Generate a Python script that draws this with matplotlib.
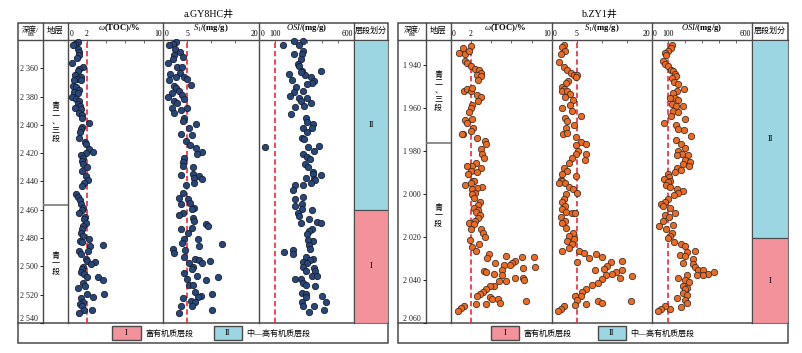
import matplotlib
matplotlib.use("Agg")
import matplotlib.pyplot as plt

plt.rcParams['font.family'] = ['Liberation Serif', 'Noto Sans CJK SC']
plt.rcParams['mathtext.fontset'] = 'custom'
plt.rcParams['mathtext.rm'] = 'Liberation Serif'
plt.rcParams['mathtext.it'] = 'Liberation Serif:italic'
plt.rcParams['mathtext.bf'] = 'Liberation Serif:bold'

# ---------------- data : well GY8HC ----------------
gy_toc_depth = [2341.4, 2342.8, 2343.8, 2346.1, 2348.5, 2350.8, 2352.7, 2356.4, 2359.3, 2360.2, 2362.1, 2364.4,
                2366.1, 2367.7, 2368.2, 2368.6, 2372.2, 2373.3, 2375.0, 2376.6, 2377.3, 2380.1, 2382.0, 2383.2,
                2385.1, 2386.7, 2388.4, 2389.1, 2391.4, 2393.1, 2394.9, 2398.7, 2401.5, 2403.1, 2405.0, 2409.0,
                2411.8, 2413.7, 2417.2, 2418.9, 2419.6, 2421.4, 2423.1, 2425.4, 2427.8, 2430.1, 2432.5, 2436.0,
                2439.1,
                2441.4, 2443.3, 2448.5, 2450.8, 2453.2, 2456.2, 2458.5, 2460.2, 2462.1, 2464.9, 2466.8, 2469.1,
                2471.5, 2473.8, 2476.2, 2478.5, 2480.4, 2482.0, 2482.7, 2485.5, 2484.6, 2489.1, 2491.4, 2489.1,
                2494.5, 2496.1, 2496.8, 2498.4, 2500.1, 2502.0, 2504.3, 2505.5, 2507.8, 2507.6, 2509.5, 2511.4,
                2513.7, 2515.6, 2519.6, 2519.8, 2521.4, 2522.6, 2525.0, 2526.6, 2528.3, 2530.8, 2530.8, 2533.0]
gy_toc = [1.05, 0.74, 0.56, 1.09, 1.19, 1.12, 0.95, 0.42, 1.61, 1.19, 1.02, 0.77,
          1.37, 0.95, 0.67, 1.33, 0.49, 0.84, 1.12, 0.63, 1.02, 0.42, 0.84, 1.12,
          1.02, 1.26, 0.77, 1.37, 1.19, 1.47, 1.44, 2.18, 1.47, 1.37, 1.26, 1.12,
          1.79, 1.89, 2.18, 2.60, 1.89, 1.37, 1.54, 1.47, 1.54, 1.96, 1.47, 1.89,
          2.07,
          1.72, 1.47, 0.84, 1.02, 1.26, 1.37, 1.61, 1.47, 1.19, 1.82, 1.72, 1.89,
          1.61, 1.47, 1.37, 1.61, 2.18, 1.26, 1.47, 2.32, 3.65, 1.12, 1.37, 2.07,
          1.89, 1.96, 2.88, 2.42, 1.61, 1.47, 1.37, 1.72, 1.96, 3.19, 3.65, 1.54,
          1.82, 1.05, 1.96, 3.82, 2.67, 1.37, 1.54, 1.26, 1.47, 1.72, 2.53, 1.12]

gy_s1_depth = [2341.4, 2342.8, 2343.3, 2346.1, 2348.5, 2350.8, 2352.2, 2353.2, 2356.2, 2359.3, 2359.3, 2363.9,
               2363.2, 2366.1, 2366.3, 2368.2, 2367.9, 2371.5, 2372.2, 2373.8, 2375.7, 2377.8, 2380.4, 2379.0,
               2382.0, 2383.2, 2384.4, 2388.4, 2389.8, 2391.4, 2387.9, 2394.9, 2397.3, 2402.0, 2399.2, 2406.2,
               2407.1, 2411.4, 2414.4, 2416.1, 2418.9, 2420.3, 2423.1, 2425.9, 2429.0, 2429.7, 2435.3, 2434.8,
               2436.0, 2437.2, 2438.3,
               2441.4, 2442.8, 2448.0, 2451.5, 2452.7, 2456.2, 2455.5, 2458.5, 2459.7, 2462.1, 2463.9, 2465.6,
               2467.9, 2470.3, 2471.5, 2472.6, 2473.8, 2476.2, 2480.8, 2480.8, 2483.2, 2485.5, 2484.4, 2487.9,
               2490.7, 2488.4, 2493.1, 2494.9, 2497.3, 2495.4, 2497.3, 2496.3, 2500.1, 2502.0, 2504.8, 2506.7,
               2509.5, 2507.6, 2509.0, 2512.8, 2513.2, 2517.9, 2521.2, 2519.6, 2521.9, 2522.6, 2524.3, 2525.4,
               2527.8, 2528.3, 2530.6, 2533.0]
gy_s1 = [2.71, 2.01, 1.32, 2.57, 3.61, 2.36, 4.24, 2.01, 0.97, 2.92, 3.96, 1.46,
         3.61, 2.71, 4.44, 1.32, 4.93, 5.83, 2.36, 2.71, 3.40, 1.88, 0.97, 3.96,
         4.44, 2.36, 2.92, 1.88, 3.75, 2.36, 4.93, 4.44, 4.10, 5.35, 6.88, 3.75,
         6.04, 4.79, 5.63, 6.88, 8.13, 7.01, 4.44, 4.24, 4.10, 6.18, 3.75, 6.18,
         7.43, 6.53, 8.13,
         6.53, 4.79, 4.10, 3.26, 5.14, 3.75, 5.63, 6.53, 6.04, 4.24, 3.26, 6.18,
         6.53, 8.96, 9.31, 6.04, 3.75, 5.14, 4.44, 7.22, 3.96, 7.43, 12.29, 2.15,
         2.36, 4.65, 4.44, 6.74, 5.35, 7.57, 8.13, 9.79, 6.18, 6.04, 4.44, 7.01,
         8.96, 11.39, 4.93, 5.35, 6.18, 6.74, 7.92, 10.21, 7.22, 4.10, 5.83, 6.74,
         3.75, 6.04, 10.21, 3.40]

gy_osi_depth = [2340.9, 2340.9, 2343.8, 2343.8, 2348.0, 2349.9, 2349.9, 2353.2, 2356.9, 2358.6, 2362.1, 2361.6,
                2364.0, 2364.9, 2362.5, 2366.3, 2368.6, 2369.1, 2370.3, 2371.0, 2373.3, 2376.2, 2376.6, 2379.7,
                2381.3, 2380.8, 2383.2, 2384.6, 2387.4, 2386.7, 2392.1, 2395.4, 2397.7, 2399.2, 2402.0, 2402.4,
                2405.3, 2409.0, 2410.2, 2415.6, 2415.6, 2414.9, 2418.4, 2420.3, 2422.6, 2424.3, 2427.8, 2430.1,
                2433.0, 2435.3, 2434.4, 2437.2, 2438.3,
                2439.1, 2441.4, 2442.8, 2442.8, 2446.1, 2450.8, 2452.7, 2456.2, 2457.4, 2459.7, 2460.2, 2462.1,
                2464.4, 2466.8, 2468.6, 2469.6, 2469.6, 2473.3, 2475.0, 2477.3, 2482.0, 2481.3, 2485.1, 2487.9,
                2489.8, 2488.4, 2491.4, 2493.1, 2494.5, 2495.4, 2496.8, 2497.7, 2500.1, 2500.8, 2503.1, 2503.1,
                2507.1, 2507.1, 2509.0, 2509.0, 2511.8, 2513.2, 2514.2, 2518.9, 2519.6, 2520.7, 2521.9, 2525.0,
                2525.4, 2527.8, 2527.8, 2530.6, 2532.5]
gy_osi = [223, 276, 149, 250, 280, 272, 223, 265, 244, 255, 272, 392,
          187, 293, 265, 328, 208, 349, 335, 301, 234, 280, 223, 196,
          255, 301, 265, 328, 229, 286, 204, 297, 301, 339, 280, 335,
          301, 272, 286, 40, 307, 377, 349, 280, 301, 322, 293, 307,
          339, 392, 339, 297, 349,
          356, 328, 229, 280, 213, 280, 229, 272, 229, 272, 335, 244,
          255, 314, 364, 392, 265, 335, 314, 301, 343, 307, 314, 322,
          160, 217, 213, 297, 343, 322, 280, 301, 280, 349, 297, 356,
          335, 364, 229, 265, 280, 297, 356, 272, 297, 398, 297, 272,
          423, 349, 280, 413, 314]

# ---------------- data : well ZY1 ----------------
zy_toc_depth = [1932.1, 1931.4, 1934.4, 1934.9, 1933.7, 1938.3, 1939.1, 1940.6, 1941.7, 1942.2, 1943.7, 1944.5,
                1945.2, 1946.8, 1951.9, 1951.4, 1952.2, 1950.6, 1954.0, 1955.0, 1956.8, 1958.4, 1959.9, 1961.8,
                1965.8, 1966.8, 1965.3, 1969.2, 1972.2, 1972.2, 1970.7, 1973.8, 1975.3, 1976.9, 1979.2, 1981.5,
                1983.4, 1985.8, 1986.9, 1986.9, 1988.0, 1989.2, 1990.0, 1990.8, 1993.9,
                1994.0, 1995.1, 1996.0, 1996.6, 1997.1, 1997.5, 1999.4, 2000.1, 2001.7, 2003.7, 2005.2, 2006.3,
                2007.4, 2008.6, 2009.9, 2011.4, 2012.5, 2013.6, 2014.0, 2016.3, 2016.3, 2018.2, 2020.2, 2021.3,
                2023.3, 2024.8, 2026.4, 2028.1, 2029.9, 2028.7, 2029.3, 2029.2, 2032.1, 2031.2, 2032.1, 2033.0,
                2033.0, 2035.2, 2034.2, 2033.9, 2035.6, 2036.4, 2037.2, 2037.9, 2038.9, 2039.2, 2039.8, 2040.7,
                2040.7, 2042.6, 2042.9, 2044.1, 2045.7, 2046.4, 2047.5, 2048.0, 2048.7, 2048.7, 2050.6, 2049.7,
                2051.1, 2051.2, 2052.1, 2053.1, 2054.3]
zy_toc = [1.23, 1.99, 0.83, 1.42, 1.82, 1.42, 1.66, 1.99, 2.42, 2.81, 2.98, 2.65,
          2.98, 2.75, 1.32, 1.66, 1.99, 2.09, 2.65, 2.98, 2.75, 2.15, 1.99, 1.82,
          1.42, 1.66, 2.09, 2.22, 1.23, 1.09, 1.99, 2.65, 3.41, 3.54, 2.98, 3.08,
          3.31, 2.48, 2.15, 1.66, 2.98, 1.99, 2.65, 1.75, 2.22,
          2.32, 1.99, 1.42, 3.08, 2.65, 2.15, 2.42, 2.09, 2.32, 2.88, 2.75, 2.32,
          2.75, 2.48, 2.88, 2.75, 2.42, 1.82, 2.32, 1.99, 2.98, 3.15, 3.41, 1.89,
          2.81, 2.09, 2.48, 3.81, 3.64, 5.46, 7.05, 8.28, 4.40, 6.39, 6.06, 5.86,
          5.30, 5.07, 7.19, 8.38, 3.31, 3.54, 4.30, 5.07, 6.39, 7.19, 7.28, 5.46,
          4.74, 4.30, 3.87, 3.54, 3.15, 2.88, 2.65, 3.87, 4.07, 4.64, 4.87, 7.45,
          2.55, 3.54, 1.32, 0.99, 0.76]

zy_s1_depth = [1930.6, 1931.8, 1933.4, 1934.9, 1938.6, 1941.1, 1942.2, 1943.7, 1944.8, 1944.8, 1945.7, 1947.3,
               1948.3, 1950.3, 1951.4, 1951.9, 1952.2, 1953.7, 1955.0, 1956.5, 1958.4, 1959.9, 1961.4, 1963.8,
               1964.5, 1966.1, 1967.9, 1969.2, 1972.2, 1971.5, 1973.5, 1975.6, 1977.2, 1976.6, 1980.0, 1981.5,
               1983.4, 1981.5, 1984.3, 1985.4, 1987.7, 1989.2, 1990.8, 1993.5, 1991.5,
               1994.0, 1994.7, 1995.1, 1996.6, 1997.5, 1999.7, 2000.1, 2002.5, 2003.7, 2005.5, 2007.1, 2008.6,
               2008.9, 2008.9, 2010.5, 2012.5, 2013.6, 2015.6, 2018.2, 2019.4, 2021.0, 2021.7, 2023.3, 2025.3,
               2026.4, 2026.4, 2027.5, 2029.9, 2027.9, 2029.5, 2031.5, 2031.8, 2031.2, 2033.6, 2034.9, 2035.2,
               2035.2, 2036.4, 2037.2, 2037.9, 2038.3, 2038.9, 2039.5, 2041.3, 2042.3, 2044.1, 2045.4, 2047.5,
               2047.5, 2049.1, 2051.1, 2050.0, 2050.6, 2050.0, 2051.5, 2052.1, 2053.4, 2054.3]
zy_s1 = [2.47, 2.13, 2.67, 1.80, 1.47, 2.47, 3.13, 3.80, 4.47, 5.13, 4.80, 3.33,
         2.80, 2.13, 2.47, 2.00, 3.13, 3.60, 2.67, 4.27, 3.60, 2.13, 4.13, 5.80,
         2.67, 3.13, 4.47, 2.80, 2.27, 3.13, 4.80, 5.80, 4.93, 6.93, 5.33, 4.80,
         4.13, 6.80, 6.67, 3.47, 2.47, 3.13, 2.13, 1.80, 4.80,
         2.13, 2.67, 1.47, 3.47, 4.27, 5.13, 2.80, 2.47, 2.00, 2.67, 2.13, 2.93,
         4.00, 4.67, 1.80, 2.67, 2.13, 2.80, 4.27, 3.47, 4.47, 3.13, 4.13, 3.47,
         2.00, 5.47, 6.47, 7.47, 8.80, 10.13, 5.13, 11.80, 14.13, 11.13, 10.47, 8.67,
         14.00, 12.80, 12.00, 10.80, 16.13, 13.60, 10.00, 9.33, 8.00, 6.80, 6.13, 5.80,
         4.67, 5.13, 6.93, 9.33, 10.13, 15.80, 4.67, 2.47, 1.80, 1.33]

zy_osi_depth = [1930.9, 1932.1, 1933.4, 1934.4, 1935.5, 1938.0, 1939.5, 1940.6, 1942.2, 1942.9, 1944.2, 1945.2,
                1946.3, 1947.9, 1948.8, 1951.4, 1951.9, 1953.0, 1955.3, 1955.6, 1956.5, 1958.1, 1959.1, 1959.1,
                1961.4, 1961.8, 1963.8, 1965.3, 1966.8, 1967.9, 1969.9, 1970.4, 1973.0, 1975.0, 1976.6, 1978.4,
                1980.0, 1981.2, 1981.8, 1981.8, 1984.3, 1984.9, 1986.1, 1986.9, 1988.0, 1988.9, 1990.0, 1990.5,
                1992.0, 1993.1, 1993.9,
                1994.4, 1996.0, 1996.6, 1997.5, 1998.6, 1999.7, 2000.6, 2002.5, 2003.7, 2004.8, 2005.5, 2006.3,
                2008.9, 2009.9, 2010.9, 2012.5, 2014.5, 2015.1, 2016.3, 2018.2, 2019.4, 2020.7, 2022.2, 2023.3,
                2024.4, 2026.4, 2026.8, 2028.4, 2029.0, 2030.2, 2032.1, 2032.5, 2034.1, 2035.2, 2035.2, 2037.2,
                2036.4, 2037.9, 2037.6, 2039.2, 2037.9, 2039.8, 2041.0, 2042.9, 2043.8, 2044.4, 2046.0, 2046.9,
                2048.4, 2049.1, 2050.6, 2052.6, 2053.4, 2052.3, 2053.4, 2054.3]
zy_osi = [121, 113, 97, 81, 87, 68, 77, 97, 113, 127, 137, 147,
          121, 133, 157, 193, 153, 127, 137, 107, 157, 121, 147, 187,
          127, 157, 113, 201, 74, 147, 157, 193, 236, 147, 173, 201,
          157, 181, 217, 153, 201, 227, 187, 221, 153, 177, 141, 97,
          101, 74, 107,
          97, 87, 107, 153, 187, 157, 133, 97, 77, 54, 68, 107,
          137, 77, 101, 68, 127, 42, 87, 121, 107, 97, 133, 177,
          201, 256, 213, 167, 197, 246, 187, 246, 256, 276, 306, 336,
          372, 306, 272, 157, 213, 201, 221, 187, 213, 197, 187, 213,
          153, 201, 213, 177, 107, 77, 58, 38]

# ---------------- axis / zone settings ----------------
toc_ticks, toc_labels = [0, 2, 4, 6, 8, 10], ["0", "2", "10"]
s1_ticks, s1_labels = [0, 5, 10, 15, 20], ["0", "5", "20"]
osi_ticks, osi_labels = [0, 100, 200, 300, 400, 500, 600], ["0", "100", "600"]
thresholds = [2, 5, 100]
gy_depth_ticks = [2360, 2380, 2400, 2420, 2440, 2460, 2480, 2500, 2520, 2540]
zy_depth_ticks = [1940, 1960, 1980, 2000, 2020, 2040, 2060]
gy_strata_boundary, zy_strata_boundary = 2456.5, 1976.4
gy_zone_boundary, zy_zone_boundary = 2460, 2020.5

W, H = 802, 353
fig = plt.figure(figsize=(W / 100, H / 100), dpi=100)
ov = fig.add_axes([0, 0, 1, 1])
ov.set_xlim(0, W)
ov.set_ylim(H, 0)
ov.axis('off')

LC = '#4a4a4a'
BLUE, PINK = '#9bd6e2', '#f3929b'
RED = '#f0283a'


def add_ax(x0, x1, y0=40, y1=323):
    ax = fig.add_axes([x0 / W, 1 - y1 / H, (x1 - x0) / W, (y1 - y0) / H])
    ax.patch.set_alpha(0)
    for s in ax.spines.values():
        s.set_visible(False)
    ax.set_xticks([])
    ax.set_yticks([])
    return ax


def fmt_depth(d):
    return f"{d // 1000} {d % 1000:03d}"


def draw_panel(cols, title, ylim, dticks, series, colors, strata, sb, zb, legend_x):
    c = cols
    # frame lines
    ov.add_patch(plt.Rectangle((c[0], 23), c[6] - c[0], 320, fill=False, ec=LC, lw=1.1))
    ov.plot([c[0], c[6]], [40, 40], color=LC, lw=1.0)
    ov.plot([c[0], c[6]], [323, 323], color=LC, lw=1.1)
    for x in c[1:6]:
        ov.plot([x, x], [23, 323], color=LC, lw=1.0)
    ov.text((c[0] + c[6]) / 2 + 6, 14, title, ha='center', va='center', fontsize=7.2)
    ov.text((c[0] + c[1]) / 2, 31, "深度/\nm", ha='center', va='center', fontsize=5.4,
            linespacing=0.85)
    ov.text((c[1] + c[2]) / 2, 31, "地层", ha='center', va='center', fontsize=6)
    ov.text((c[5] + c[6]) / 2, 31, "层段划分", ha='center', va='center', fontsize=5.8)

    # depth axis + strata column
    ax_s = add_ax(c[1], c[2])
    ax_s.set_ylim(ylim[1], ylim[0])
    ax_s.set_xlim(0, 1)
    ax_s.set_yticks(dticks)
    ax_s.set_yticklabels([fmt_depth(d) for d in dticks])
    ax_s.tick_params(axis='y', left=True, direction='out', length=2.5, width=0.7,
                     labelsize=5.8, pad=1, colors='#222')
    if dticks[-1] >= ylim[1] - 0.5:
        ax_s.get_yticklabels()[-1].set_va('bottom')
    ax_s.axhline(sb, color='#7a7a7a', lw=1.2)
    ax_s.text(0.5, (ylim[0] + sb) / 2 + strata[0][1], strata[0][0], ha='center', va='center',
              fontsize=5.8, linespacing=1.05)
    ax_s.text(0.5, (sb + ylim[1]) / 2 + strata[1][1], strata[1][0], ha='center', va='center',
              fontsize=5.8, linespacing=1.05)

    headers = [r"$\omega$(TOC)/%", r"$S_1$/(mg/g)", r"$OSI$/(mg/g)"]
    ticks = [toc_ticks, s1_ticks, osi_ticks]
    labels = [toc_labels, s1_labels, osi_labels]
    for i in range(3):
        x0, x1 = c[2 + i], c[3 + i]
        ax = add_ax(x0, x1)
        lo, hi = ticks[i][0], ticks[i][-1]
        ax.set_xlim(lo, hi)
        ax.set_ylim(ylim[1], ylim[0])
        ax.set_xticks(ticks[i])
        ax.tick_params(axis='x', top=True, bottom=False, direction='in', length=2.5, width=0.6,
                       color='#555', labeltop=False, labelbottom=False)
        ax.axvline(thresholds[i], color=RED, lw=1.2, ls=(0, (3.2, 1.8)), zorder=1)
        d, v = series[i]
        ax.scatter(v, d, s=21, c=colors[0], edgecolors=colors[1], linewidths=0.55, zorder=3,
                   clip_on=False)
        ax.set_ylim(ylim[1], ylim[0])
        ov.text((x0 + x1) / 2 + (4 if i == 0 else 0), 28.5, headers[i], ha='center', va='center',
                fontsize=6.2, fontweight='bold')
        px = lambda val: x0 + (val - lo) / (hi - lo) * (x1 - x0)
        ov.text(x0 + 1.5, 34.5, labels[i][0], ha='left', va='center', fontsize=5.6)
        ov.text(px(thresholds[i]), 34.5, labels[i][1], ha='center', va='center', fontsize=5.6)
        ov.text(x1 - 1, 34.5, labels[i][2], ha='right', va='center', fontsize=5.6)

    # zone column
    ax_z = add_ax(c[5], c[6])
    ax_z.set_xlim(0, 1)
    ax_z.set_ylim(ylim[1], ylim[0])
    ax_z.axhspan(ylim[0], zb, facecolor=BLUE, edgecolor=LC, lw=0.8)
    ax_z.axhspan(zb, ylim[1], facecolor=PINK, edgecolor=LC, lw=0.8)
    ax_z.text(0.5, (ylim[0] + zb) / 2, "II", ha='center', va='center', fontsize=6.2)
    ax_z.text(0.5, (zb + ylim[1]) / 2, "I", ha='center', va='center', fontsize=6.2)

    # legend
    lx1, lx2 = legend_x
    ov.add_patch(plt.Rectangle((lx1, 326), 28.5, 14, facecolor=PINK, edgecolor=LC, lw=1.0))
    ov.text(lx1 + 14.2, 333, "I", ha='center', va='center', fontsize=6.2)
    ov.text(lx1 + 33, 333.5, "富有机质层段", ha='left', va='center', fontsize=5.8)
    ov.add_patch(plt.Rectangle((lx2, 326), 28.5, 14, facecolor=BLUE, edgecolor=LC, lw=1.0))
    ov.text(lx2 + 14.2, 333, "II", ha='center', va='center', fontsize=6.2)
    ov.text(lx2 + 33, 333.5, "中—高有机质层段", ha='left', va='center', fontsize=5.8)


draw_panel([18, 43, 68, 163, 259, 354, 388], "a.GY8HC井", (2340, 2540), gy_depth_ticks,
           [(gy_toc_depth, gy_toc), (gy_s1_depth, gy_s1), (gy_osi_depth, gy_osi)],
           ('#27477a', '#151a2a'),
           [("青\n二\n、\n三\n段", 0), ("青\n一\n段", 0)],
           gy_strata_boundary, gy_zone_boundary, (112, 213.5))

draw_panel([398, 425.7, 450.7, 551.7, 651.7, 752.3, 787.7], "b.ZY1井", (1928.4, 2060), zy_depth_ticks,
           [(zy_toc_depth, zy_toc), (zy_s1_depth, zy_s1), (zy_osi_depth, zy_osi)],
           ('#ec6a22', '#3a2a22'),
           [("青\n二\n、\n三\n段", 0), ("青\n一\n段", -8)],
           zy_strata_boundary, zy_zone_boundary, (490.7, 597.5))

fig.savefig("out.png", dpi=100)
